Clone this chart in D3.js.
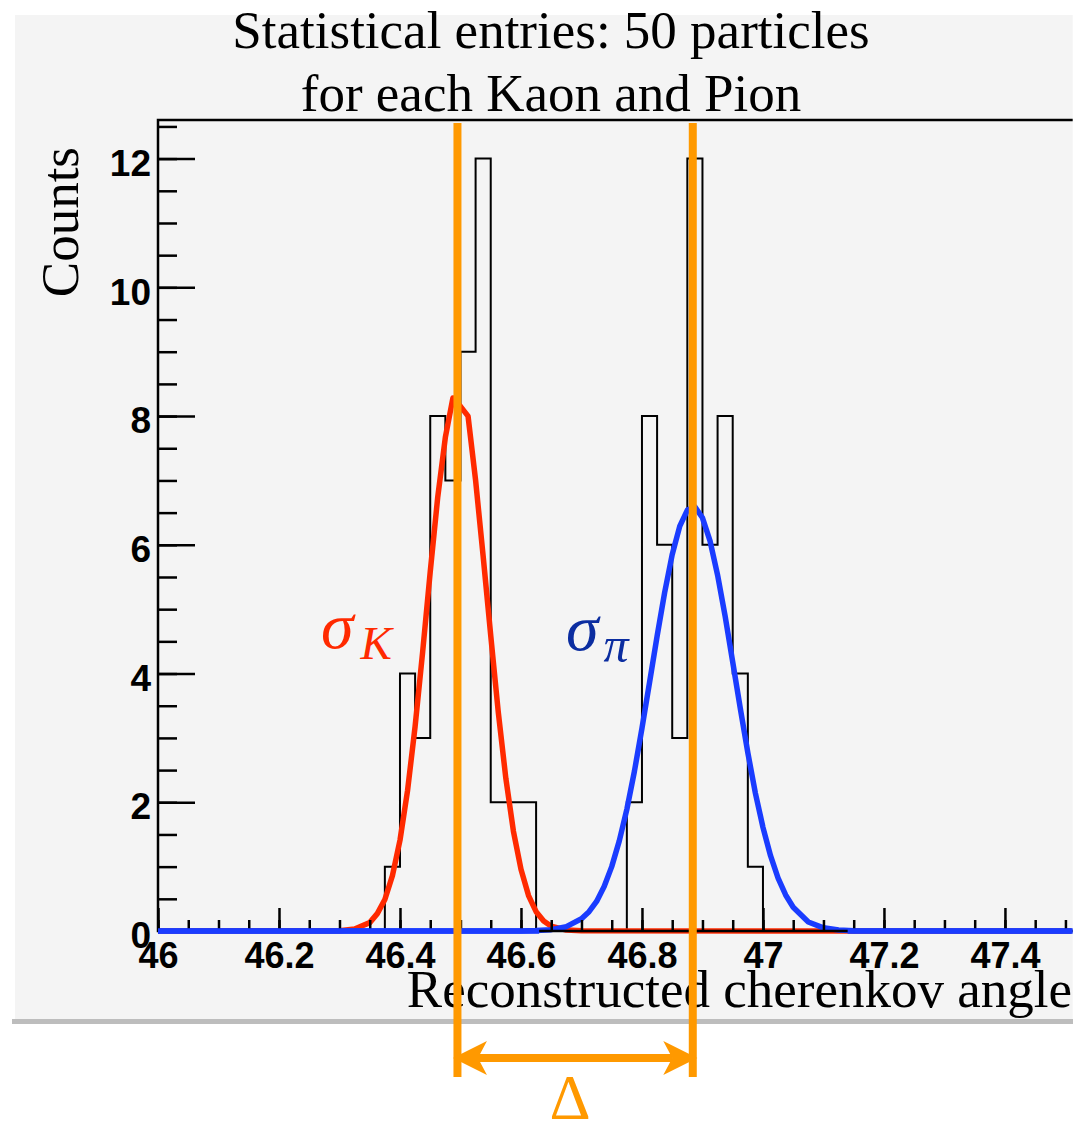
<!DOCTYPE html>
<html>
<head>
<meta charset="utf-8">
<script src="https://cdn.jsdelivr.net/npm/d3@7"></script>
<style>
    body { margin: 0; background: #ffffff; }
    svg { display: block; }
</style>
</head>
<body>
<script>
// histogram: 0.025 wide bins from 46 to 47.5, only filled bins listed
const binWidth = 0.025
const binStarts = [46.375, 46.4, 46.425, 46.45, 46.475, 46.5, 46.525, 46.55, 46.575, 46.6,
    46.775, 46.8, 46.825, 46.85, 46.875, 46.9, 46.925, 46.95, 46.975]
const binCounts = [1, 4, 3, 8, 7, 9, 12, 2, 2, 2,
    2, 8, 6, 3, 12, 6, 8, 4, 1]

// gaussian fits
const kaonFitX = [46.0, 46.3, 46.325, 46.35, 46.3625, 46.375, 46.3875, 46.4, 46.4125, 46.425, 46.4375,
    46.45, 46.4625, 46.475, 46.4875, 46.5, 46.5125, 46.525, 46.5375, 46.55, 46.5625, 46.575,
    46.5875, 46.6, 46.6125, 46.625, 46.6375, 46.65, 46.675, 46.7, 47.51]
const kaonFitY = [0, 0.005, 0.03, 0.13, 0.27, 0.49, 0.86, 1.41, 2.18, 3.18, 4.34,
    5.58, 6.75, 7.67, 8.28, 8.15, 8.0, 7.0, 5.82, 4.59, 3.40, 2.37,
    1.55, 0.96, 0.55, 0.30, 0.155, 0.075, 0.014, 0.002, 0]

const pionFitX = [46.0, 46.6, 46.625, 46.65, 46.675, 46.7, 46.7125, 46.725, 46.7375, 46.75, 46.7625,
    46.775, 46.7875, 46.8, 46.8125, 46.825, 46.8375, 46.85, 46.8625, 46.875, 46.8875, 46.9,
    46.9125, 46.925, 46.9375, 46.95, 46.9625, 46.975, 46.9875, 47.0, 47.0125, 47.025, 47.0375,
    47.05, 47.075, 47.1, 47.125, 47.15, 47.51]
const pionFitY = [0, 0.001, 0.006, 0.021, 0.067, 0.19, 0.30, 0.46, 0.69, 1.0, 1.40,
    1.89, 2.48, 3.15, 3.86, 4.58, 5.26, 5.85, 6.29, 6.54, 6.59, 6.42,
    6.06, 5.53, 4.89, 4.18, 3.46, 2.77, 2.14, 1.61, 1.17, 0.82, 0.56,
    0.37, 0.14, 0.049, 0.015, 0.004, 0]

const fitMeans = [46.495, 46.884]

const xTickValues = [46, 46.2, 46.4, 46.6, 46.8, 47, 47.2, 47.4]
const xTickLabels = ["46", "46.2", "46.4", "46.6", "46.8", "47", "47.2", "47.4"]
const yTickValues = [0, 2, 4, 6, 8, 10, 12]
const yTickLabels = ["0", "2", "4", "6", "8", "10", "12"]

const titleLines = ["Statistical entries: 50 particles", "for each Kaon and Pion"]
const xTitle = "Reconstructed cherenkov angle"
const yTitle = "Counts"

const svgWidth = 1080
const svgHeight = 1124
const margin = {top: 120, right: 7.3, bottom: 193, left: 158}
const chartWidth = svgWidth - margin.left - margin.right
const chartHeight = svgHeight - margin.top - margin.bottom

const serif = '"Liberation Serif", "DejaVu Serif", serif'
const sans = '"Liberation Sans", Arial, sans-serif'
const orange = "#ff9900"

const svg = d3.select("body").append("svg")
    .attr("width", svgWidth)
    .attr("height", svgHeight)

// pad background + shadow
svg.append("rect")
    .attr("x", 12).attr("y", 1019).attr("width", 1061).attr("height", 5)
    .attr("fill", "#bdbdbd")
svg.append("rect")
    .attr("x", 15).attr("y", 15).attr("width", 1057.7).attr("height", 1004)
    .attr("fill", "#f4f4f4")

const g = svg.append("g")
    .attr("transform", `translate(${margin.left}, ${margin.top})`)

const scaleX = d3.scaleLinear()
    .domain([46, 47.512])
    .range([0, chartWidth])

const scaleY = d3.scaleLinear()
    .domain([0, 12.6])
    .range([chartHeight, 0])

// full step outline of the histogram
const histPoints = d3.range(60).map(i => {
    const x0 = +(46 + i * binWidth).toFixed(3)
    const k = binStarts.findIndex(s => Math.abs(s - x0) < 1e-6)
    return [x0, k >= 0 ? binCounts[k] : 0]
})
histPoints.push([47.5, 0])

g.append("path")
    .datum(histPoints)
    .attr("fill", "none")
    .attr("stroke", "#000")
    .attr("stroke-width", 2)
    .attr("d", d3.line()
        .x(d => scaleX(d[0]))
        .y(d => scaleY(d[1]))
        .curve(d3.curveStepAfter))

const fitLine = d3.line()
    .x(d => scaleX(d[0]))
    .y(d => scaleY(d[1]))

g.append("path")
    .datum(d3.zip(kaonFitX, kaonFitY))
    .attr("fill", "none")
    .attr("stroke", "#ff2a00")
    .attr("stroke-width", 5.5)
    .attr("stroke-linejoin", "round")
    .attr("d", fitLine)

g.append("path")
    .datum(d3.zip(pionFitX, pionFitY))
    .attr("fill", "none")
    .attr("stroke", "#1a3cff")
    .attr("stroke-width", 5.5)
    .attr("stroke-linejoin", "round")
    .attr("d", fitLine)

// axes
const xMajor = g.append("g")
    .attr("transform", `translate(0, ${chartHeight})`)
    .call(d3.axisBottom(scaleX)
        .tickValues(xTickValues)
        .tickFormat((d, i) => xTickLabels[i])
        .tickSizeInner(-23)
        .tickSizeOuter(0)
        .tickPadding(11))
xMajor.select(".domain").remove()

const xMinor = g.append("g")
    .attr("transform", `translate(0, ${chartHeight})`)
    .call(d3.axisBottom(scaleX)
        .tickValues(d3.range(0, 31).map(i => 46 + i * 0.05))
        .tickFormat("")
        .tickSizeInner(-11)
        .tickSizeOuter(0))
xMinor.select(".domain").remove()

const yMajor = g.append("g")
    .call(d3.axisLeft(scaleY)
        .tickValues(yTickValues)
        .tickFormat((d, i) => yTickLabels[i])
        .tickSizeInner(-37)
        .tickSizeOuter(0)
        .tickPadding(7))
yMajor.select(".domain").remove()

const yMinor = g.append("g")
    .call(d3.axisLeft(scaleY)
        .tickValues(d3.range(0, 26).map(i => i * 0.5))
        .tickFormat("")
        .tickSizeInner(-19)
        .tickSizeOuter(0))
yMinor.select(".domain").remove()

g.selectAll(".tick line").attr("stroke", "#000").attr("stroke-width", 2.5)

xMajor.selectAll("text")
    .attr("fill", "#000")
    .style("font-family", sans)
    .style("font-weight", "bold")
    .style("font-size", "36px")

yMajor.selectAll("text")
    .attr("fill", "#000")
    .attr("dy", "0.45em")
    .style("font-family", sans)
    .style("font-weight", "bold")
    .style("font-size", "37px")

// frame lines: left, bottom, top
g.append("path")
    .attr("fill", "none")
    .attr("stroke", "#000")
    .attr("stroke-width", 2.5)
    .attr("d", `M${chartWidth},0H0V${chartHeight}H${chartWidth}`)

// the blue fit baseline lies over the x axis, so redraw those flat parts on top
g.append("path")
    .attr("fill", "none")
    .attr("stroke", "#1a3cff")
    .attr("stroke-width", 5.5)
    .attr("d", `M${scaleX(46)},${scaleY(0)}H${scaleX(46.63)}M${scaleX(47.14)},${scaleY(0)}H${scaleX(47.512)}`)

// titles
svg.append("text")
    .attr("x", 551).attr("y", 48)
    .attr("text-anchor", "middle")
    .style("font-family", serif).style("font-size", "53px")
    .text(titleLines[0])
svg.append("text")
    .attr("x", 551).attr("y", 111)
    .attr("text-anchor", "middle")
    .style("font-family", serif).style("font-size", "53px")
    .text(titleLines[1])

svg.append("text")
    .attr("x", 1072).attr("y", 1007)
    .attr("text-anchor", "end")
    .style("font-family", serif).style("font-size", "53px")
    .text(xTitle)

svg.append("text")
    .attr("transform", "translate(78, 147) rotate(-90)")
    .attr("text-anchor", "end")
    .style("font-family", serif).style("font-size", "53px")
    .text(yTitle)

// sigma labels
const sigK = svg.append("text")
    .attr("x", 321).attr("y", 648)
    .attr("fill", "#ff2a00")
    .style("font-family", serif)
    .style("font-style", "italic")
sigK.append("tspan").style("font-size", "66px").text("σ")
sigK.append("tspan").attr("dx", 7).attr("dy", 11)
    .style("font-size", "47px").text("K")

const sigP = svg.append("text")
    .attr("x", 566).attr("y", 650)
    .attr("fill", "#0b2da0")
    .style("font-family", serif)
    .style("font-style", "italic")
sigP.append("tspan").style("font-size", "66px").text("σ")
sigP.append("tspan").attr("dx", 5).attr("dy", 12)
    .style("font-size", "50px").text("π")

// orange markers at the two fit means and the separation arrow
const lineTop = 123
const lineBottom = 1077
const arrowY = 1058
const mx = fitMeans.map(m => margin.left + scaleX(m))

svg.selectAll(".mean-line")
    .data(mx)
    .join("line")
    .attr("class", "mean-line")
    .attr("x1", d => d).attr("x2", d => d)
    .attr("y1", lineTop).attr("y2", lineBottom)
    .attr("stroke", orange)
    .attr("stroke-width", 8)

svg.append("line")
    .attr("x1", mx[0] + 20).attr("x2", mx[1] - 20)
    .attr("y1", arrowY).attr("y2", arrowY)
    .attr("stroke", orange)
    .attr("stroke-width", 8)

const head = (tip, dir) => {
    const back = tip + dir * 34
    const notch = tip + dir * 25
    return `M${tip},${arrowY}L${back},${arrowY - 17}L${notch},${arrowY}L${back},${arrowY + 17}Z`
}
svg.append("path").attr("d", head(mx[0] - 4.5, 1)).attr("fill", orange)
svg.append("path").attr("d", head(mx[1] + 4.5, -1)).attr("fill", orange)

svg.append("text")
    .attr("x", 570).attr("y", 1119)
    .attr("text-anchor", "middle")
    .attr("fill", orange)
    .style("font-family", serif).style("font-size", "64px")
    .text("Δ")
</script>
</body>
</html>
